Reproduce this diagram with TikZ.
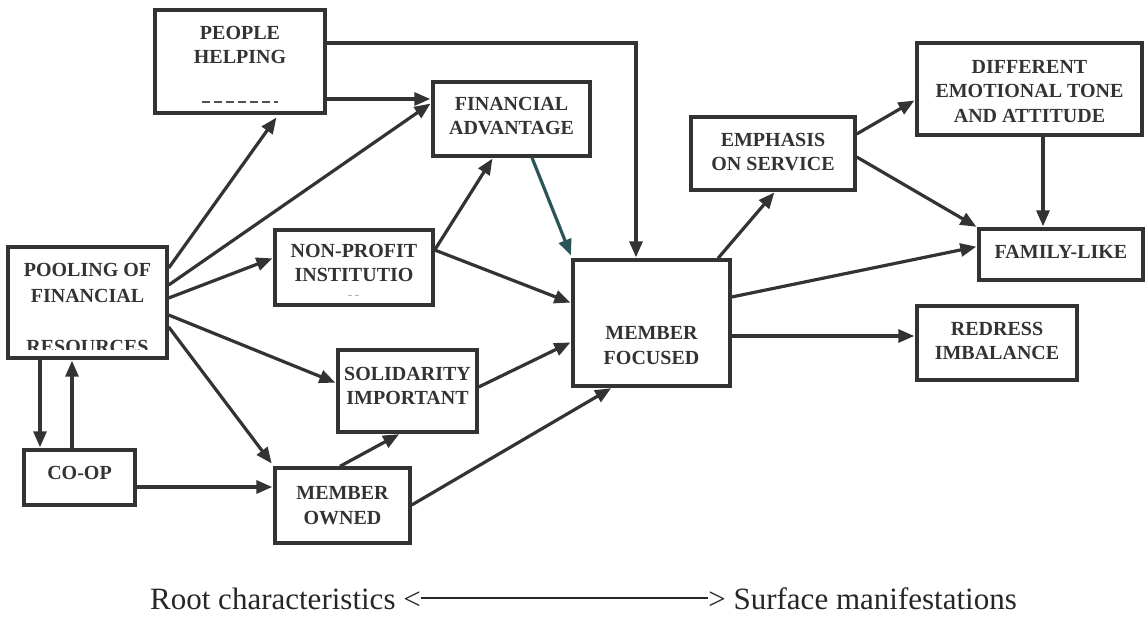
\documentclass[tikz,border=0pt]{standalone}
\usepackage{fontspec}
\setmainfont{Liberation Serif}
\usetikzlibrary{arrows.meta,calc}
\definecolor{ink}{HTML}{333333}
\definecolor{tealink}{HTML}{2A5458}
\begin{document}
\begin{tikzpicture}[x=1pt,y=-1pt,
  box/.style={draw=ink, line width=3.4pt, inner sep=0pt},
  lbl/.style={text=ink, font=\fontsize{20}{24.5}\selectfont\bfseries, align=center, inner sep=0pt},
  arr/.style={draw=ink, line width=3.2pt, -{Triangle[length=16pt,width=13pt]}, shorten >=1pt},
  foot/.style={text=black!85, font=\fontsize{31}{36}\selectfont, inner sep=0pt}
]
\useasboundingbox (0,0) rectangle (1146,620);

% boxes
\node[box, minimum width=170pt, minimum height=103pt] (ph) at (240,61.5) {};
\node[lbl] (phl) at ([yshift=16.5pt]ph.center) {PEOPLE\\HELPING};
\draw[ink!85, line width=1.4pt, dash pattern=on 8pt off 4pt] ([xshift=-38pt,yshift=-40.5pt]ph.center) -- ([xshift=38pt,yshift=-40.5pt]ph.center);

\node[box, minimum width=157pt, minimum height=74pt] (fa) at (511.5,119) {};
\node[lbl] (fal) at ([yshift=3pt]fa.center) {FINANCIAL\\ADVANTAGE};

\node[box, minimum width=158pt, minimum height=75pt] (np) at (354,267.5) {};
\node[lbl] (npl) at ([yshift=4.5pt]np.center) {NON-PROFIT\\INSTITUTIO};
\draw[gray!60, line width=1pt, dash pattern=on 4pt off 3pt] ([xshift=-6pt,yshift=-28.5pt]np.center) -- ([xshift=6pt,yshift=-28.5pt]np.center);

\node[box, minimum width=159pt, minimum height=111pt] (pool) at (87.5,302.5) {};
\begin{scope}
  \clip (8,247) rectangle (167,349);
  \node[lbl, anchor=base] (pool1) at ([yshift=25.5pt]pool.center) {POOLING OF};
  \node[lbl, anchor=base] (pool2) at ([yshift=0pt]pool.center) {FINANCIAL};
  \node[lbl, anchor=base] (pool3) at ([yshift=-51pt]pool.center) {RESOURCES};
\end{scope}

\node[box, minimum width=111pt, minimum height=55pt] (coop) at (79.5,477.5) {};
\node[lbl] (coopl) at ([yshift=4.5pt]coop.center) {CO-OP};

\node[box, minimum width=139pt, minimum height=82pt] (sol) at (407.5,391) {};
\node[lbl] (soll) at ([yshift=5pt]sol.center) {SOLIDARITY\\IMPORTANT};

\node[box, minimum width=135pt, minimum height=75pt] (mo) at (342.5,505.5) {};
\node[lbl] (mol) at (mo.center) {MEMBER\\OWNED};

\node[box, minimum width=157pt, minimum height=126pt] (mf) at (651.5,323) {};
\node[lbl] (mfl) at ([yshift=-22.5pt]mf.center) {MEMBER\\FOCUSED};

\node[box, minimum width=164pt, minimum height=73pt] (es) at (773,153.5) {};
\node[lbl] (esl) at ([yshift=1.5pt]es.center) {EMPHASIS\\ON SERVICE};

\node[box, minimum width=225pt, minimum height=92pt] (dt) at (1029.5,89) {};
\node[lbl] (dtl) at ([yshift=-2.5pt]dt.center) {DIFFERENT\\EMOTIONAL TONE\\AND ATTITUDE};

\node[box, minimum width=164pt, minimum height=51pt] (fl) at (1061,254.5) {};
\node[lbl] (fll) at ([yshift=2.5pt]fl.center) {FAMILY-LIKE};

\node[box, minimum width=160pt, minimum height=74pt] (rd) at (997,343) {};
\node[lbl] (rdl) at ([yshift=2pt]rd.center) {REDRESS\\IMBALANCE};

% connectors
\draw[arr] ([yshift=18.5pt]ph.east) -| ([xshift=-15.5pt]mf.north);
\draw[arr] ([yshift=-37.5pt]ph.east) -- ([yshift=20pt]fa.west);
\draw[arr] ([yshift=34.5pt]pool.east) -- ([xshift=37pt,yshift=-2pt]ph.south);
\draw[arr] ([yshift=17.5pt]pool.east) -- ([yshift=16pt]fa.west);
\draw[arr] ([yshift=4.5pt]pool.east) -- ([yshift=9.5pt]np.west);
\draw[arr] ([yshift=-12.5pt]pool.east) -- ([yshift=8pt]sol.west);
\draw[arr] ([yshift=-24.5pt]pool.east) -- ([xshift=-1pt,yshift=2pt]mo.north west);
\draw[arr] ([xshift=-47.5pt]pool.south) -- ([xshift=-39.5pt]coop.north);
\draw[arr] ([xshift=-7.5pt]coop.north) -- ([xshift=-15.5pt]pool.south);
\draw[arr] ([yshift=-9.5pt]coop.east) -- ([yshift=18.5pt]mo.west);
\draw[arr] ([xshift=-2.5pt]mo.north) -- ([xshift=-7.5pt]sol.south);
\draw[arr] ([yshift=0.5pt]mo.east) -- ([xshift=-39.5pt]mf.south);
\draw[arr] ([yshift=4pt]sol.east) -- ([yshift=-19pt]mf.west);
\draw[arr] ([yshift=17.5pt]np.east) -- ([xshift=-18.5pt]fa.south);
\draw[arr] ([yshift=17.5pt]np.east) -- ([yshift=20pt]mf.west);
\draw[arr, draw=tealink] ([xshift=20.5pt]fa.south) -- ([yshift=2pt]mf.north west);
\draw[arr] ([xshift=66.5pt]mf.north) -- ([xshift=2pt]es.south);
\draw[arr] ([yshift=26pt]mf.east) -- ([yshift=8pt]fl.west);
\draw[arr] ([yshift=-13pt]mf.east) -- ([yshift=7pt]rd.west);
\draw[arr] ([yshift=19.5pt]es.east) -- ([yshift=-11pt]dt.west);
\draw[arr] ([yshift=-3.5pt]es.east) -- (fl.north west);
\draw[arr] ([xshift=13.5pt]dt.south) -- ([xshift=-18pt]fl.north);

% footer
\node[foot, anchor=base west] (rc) at (150,609) {Root characteristics <};
\node[foot, anchor=base east] (sm) at (1017,609) {> Surface manifestations};
\draw[black!85, line width=2.2pt] ([yshift=11pt]rc.base east) -- ([yshift=11pt]sm.base west);
\end{tikzpicture}
\end{document}
